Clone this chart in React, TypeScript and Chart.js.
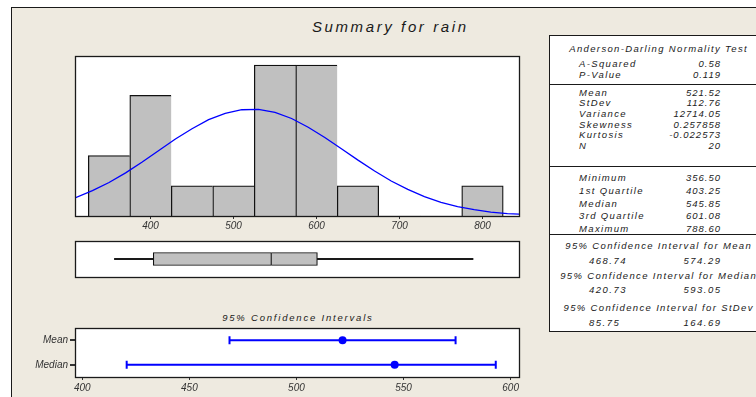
import React, { useEffect, useRef } from "react";
import { Chart, registerables } from "chart.js";

Chart.register(...registerables);

// ---------- data ----------
const binCenters = [350, 400, 450, 500, 550, 600, 650, 700, 750, 800];
const binCounts = [2, 4, 1, 1, 5, 5, 1, 0, 0, 1];
// fitted normal curve (scaled to counts)
const curveX = [309, 330, 350, 370, 390, 410, 430, 450, 470, 490, 510, 530, 550, 570, 590, 610, 630, 650, 670, 690, 710, 730, 750, 770, 790, 810, 830, 844];
const curveY = [0.6, 0.84, 1.11, 1.43, 1.79, 2.17, 2.55, 2.89, 3.19, 3.4, 3.52, 3.53, 3.43, 3.23, 2.94, 2.6, 2.23, 1.85, 1.49, 1.16, 0.88, 0.64, 0.45, 0.31, 0.21, 0.13, 0.08, 0.06];
const histTicks = [400, 500, 600, 700, 800];
const boxFive = [356.5, 403.25, 545.85, 601.08, 788.6];
const ciNames = ["Mean", "Median"];
const ciY = [1, 0];
const ciLow = [468.74, 420.73];
const ciHigh = [574.29, 593.05];
const ciPoint = [521.52, 545.85];
const ciTicks = [400, 450, 500, 550, 600];

const adLabels = ["A-Squared", "P-Value"];
const adValues = ["0.58", "0.119"];
const momentLabels = ["Mean", "StDev", "Variance", "Skewness", "Kurtosis", "N"];
const momentValues = ["521.52", "112.76", "12714.05", "0.257858", "-0.022573", "20"];
const quantLabels = ["Minimum", "1st Quartile", "Median", "3rd Quartile", "Maximum"];
const quantValues = ["356.50", "403.25", "545.85", "601.08", "788.60"];
const ciTitles = ["95% Confidence Interval for Mean", "95% Confidence Interval for Median", "95% Confidence Interval for StDev"];
const ciTableLow = ["468.74", "420.73", "85.75"];
const ciTableHigh = ["574.29", "593.05", "164.69"];

// ---------- style ----------
const FONT = '"Liberation Sans", Arial, Helvetica, sans-serif';
const BEIGE = "#EEEAE0";
const BLUE = "#0000FF";
const DARK = "#1a1a1a";

const framePlugin = {
  id: "frame",
  beforeDraw(chart: any) {
    const { ctx, chartArea: a } = chart;
    ctx.save();
    ctx.fillStyle = "#fff";
    ctx.fillRect(a.left, a.top, a.right - a.left, a.bottom - a.top);
    ctx.restore();
  },
  afterDraw(chart: any) {
    const { ctx, chartArea: a } = chart;
    ctx.save();
    ctx.strokeStyle = DARK;
    ctx.lineWidth = 1.3;
    ctx.strokeRect(Math.round(a.left) + 0.5, Math.round(a.top) + 0.5, Math.round(a.right - a.left), Math.round(a.bottom - a.top));
    ctx.restore();
  },
};

function T({ x, y, a = "left", s = 9.5, ls = 1, c = DARK, children }: any) {
  const tx = a === "left" ? "0px" : a === "right" ? `calc(-100% + ${ls}px)` : `calc(-50% + ${ls / 2}px)`;
  return (
    <div
      style={{
        position: "absolute",
        left: x,
        top: y,
        transform: `translate(${tx}, -50%)`,
        fontSize: s,
        fontStyle: "italic",
        letterSpacing: ls,
        color: c,
        whiteSpace: "nowrap",
        lineHeight: 1,
        fontFamily: FONT,
      }}
    >
      {children}
    </div>
  );
}

export default function App() {
  const histRef = useRef<HTMLCanvasElement>(null);
  const boxRef = useRef<HTMLCanvasElement>(null);
  const ciRef = useRef<HTMLCanvasElement>(null);

  useEffect(() => {
    Chart.defaults.font.family = FONT;
    const tickFont = { size: 10, style: "italic" as const };
    const tickColor = "#333";
    const charts: Chart[] = [];

    charts.push(
      new Chart(histRef.current!, {
        type: "bar",
        data: {
          datasets: [
            {
              type: "line",
              data: curveX.map((x, i) => ({ x, y: curveY[i] })),
              borderColor: BLUE,
              borderWidth: 1.3,
              pointRadius: 0,
              tension: 0,
              order: 0,
            } as any,
            {
              type: "bar",
              data: binCenters.map((x, i) => ({ x, y: binCounts[i] })),
              backgroundColor: "#C0C0C0",
              borderColor: "#111",
              borderWidth: (ctx: any) => {
                const i = ctx.dataIndex;
                if (!binCounts[i]) return 0;
                const last = i === binCounts.length - 1 || !binCounts[i + 1];
                return { top: 1.3, left: 1.3, bottom: 0, right: last ? 1.3 : 0 };
              },
              borderSkipped: false,
              barPercentage: 1,
              categoryPercentage: 1,
              order: 1,
            } as any,
          ],
        },
        options: {
          responsive: false,
          animation: false,
          layout: { padding: { left: 15, top: 10, right: 21, bottom: 0 } },
          plugins: { legend: { display: false }, tooltip: { enabled: false } },
          scales: {
            x: {
              type: "linear",
              min: 309,
              max: 844,
              offset: false,
              afterBuildTicks: (s: any) => {
                s.ticks = histTicks.map((v) => ({ value: v }));
              },
              afterFit: (s: any) => {
                s.height = 20;
              },
              grid: { offset: false, drawOnChartArea: false, tickLength: 3, color: "#333" },
              border: { display: false },
              ticks: { font: tickFont, color: tickColor, padding: 1, maxRotation: 0 },
            },
            y: { display: false, min: 0, max: 5.3 },
          },
        } as any,
        plugins: [framePlugin],
      })
    );

    const boxBase = { backgroundColor: "#C0C0C0", borderColor: "#111", borderSkipped: false, barThickness: 13, grouped: false };
    const whisk = { backgroundColor: DARK, borderWidth: 0, barThickness: 1.2, grouped: false };
    charts.push(
      new Chart(boxRef.current!, {
        type: "bar",
        data: {
          labels: ["rain"],
          datasets: [
            { ...boxBase, data: [[boxFive[1], boxFive[2]]], borderWidth: { top: 1.2, left: 1.2, bottom: 1.2, right: 1.2 } } as any,
            { ...boxBase, data: [[boxFive[2], boxFive[3]]], borderWidth: { top: 1.2, left: 0, bottom: 1.2, right: 1.2 } } as any,
            { ...whisk, data: [[boxFive[0], boxFive[1]]] } as any,
            { ...whisk, data: [[boxFive[3], boxFive[4]]] } as any,
          ],
        },
        options: {
          indexAxis: "y",
          responsive: false,
          animation: false,
          layout: { padding: { left: 15, top: 5, right: 21, bottom: 5 } },
          plugins: { legend: { display: false }, tooltip: { enabled: false } },
          scales: {
            x: { type: "linear", min: 309, max: 844, display: false },
            y: { display: false },
          },
        } as any,
        plugins: [framePlugin],
      })
    );

    charts.push(
      new Chart(ciRef.current!, {
        type: "scatter",
        data: {
          datasets: [
            ...ciNames.map((_, i) => ({
              data: [
                { x: ciLow[i], y: ciY[i] },
                { x: ciHigh[i], y: ciY[i] },
              ],
              showLine: true,
              borderColor: BLUE,
              borderWidth: 2,
              pointStyle: "line",
              pointRotation: 90,
              pointRadius: 4,
              pointBorderColor: BLUE,
              pointBorderWidth: 2,
            })),
            {
              data: ciPoint.map((x, i) => ({ x, y: ciY[i] })),
              showLine: false,
              pointStyle: "circle",
              pointRadius: 4,
              pointBackgroundColor: BLUE,
              pointBorderColor: BLUE,
              pointBorderWidth: 0,
            },
          ] as any,
        },
        options: {
          responsive: false,
          animation: false,
          layout: { padding: { left: 0, top: 6, right: 21, bottom: 0 } },
          plugins: { legend: { display: false }, tooltip: { enabled: false } },
          scales: {
            x: {
              type: "linear",
              min: 396.6,
              max: 603.9,
              afterBuildTicks: (s: any) => {
                s.ticks = ciTicks.map((v) => ({ value: v }));
              },
              afterFit: (s: any) => {
                s.height = 20;
              },
              grid: { drawOnChartArea: false, tickLength: 3, color: "#333" },
              border: { display: false },
              ticks: { font: tickFont, color: tickColor, padding: 2, maxRotation: 0 },
            },
            y: {
              type: "linear",
              min: -0.5,
              max: 1.5,
              afterBuildTicks: (s: any) => {
                s.ticks = ciY.map((v) => ({ value: v }));
              },
              afterFit: (s: any) => {
                s.width = 75;
              },
              grid: { drawOnChartArea: false, tickLength: 5, color: "#333", lineWidth: 2 },
              border: { display: false },
              ticks: {
                font: tickFont,
                color: tickColor,
                padding: 2,
                callback: (v: any) => {
                  const k = ciY.indexOf(Number(v));
                  return k >= 0 ? ciNames[k] : "";
                },
              },
            },
          },
        } as any,
        plugins: [framePlugin],
      })
    );

    return () => charts.forEach((c) => c.destroy());
  }, []);

  const momentYs = [92.7, 103.3, 113.8, 124.8, 135.3, 146];
  const quantYs = [178, 190.7, 203.5, 215.8, 228.5];
  const adYs = [64, 75.3];
  const ciTitleYs = [245.7, 275.7, 307.7];
  const ciValYs = [261, 290, 322.7];
  const LX = 579;
  const VX = 720;
  const CX = 658;
  const LS = 1.35;
  const NS = 1.0;

  return (
    <div style={{ position: "absolute", left: 0, top: 0, width: 756, height: 397, overflow: "hidden", background: "#fff", fontFamily: FONT }}>
      <div style={{ position: "absolute", left: 11, top: 7, width: 800, height: 450, border: `1px solid ${DARK}`, background: BEIGE }} />
      <T x={389} y={25.7} a="center" s={15} ls={2.6}>Summary for rain</T>

      <canvas ref={histRef} width={480} height={190} style={{ position: "absolute", left: 60, top: 46 }} />
      <canvas ref={boxRef} width={480} height={46} style={{ position: "absolute", left: 60, top: 236 }} />
      <T x={297} y={317.7} a="center" s={9.5} ls={1.8}>95% Confidence Intervals</T>
      <canvas ref={ciRef} width={540} height={77} style={{ position: "absolute", left: 0, top: 320 }} />

      <div style={{ position: "absolute", left: 549, top: 35, width: 230, height: 295, border: `1px solid ${DARK}`, background: "#fff" }} />
      {[84, 166, 234].map((y) => (
        <div key={y} style={{ position: "absolute", left: 549, top: y, width: 230, height: 1.3, background: DARK }} />
      ))}
      <T x={CX} y={48.5} a="center" ls={LS}>Anderson-Darling Normality Test</T>
      {adLabels.map((l, i) => (
        <React.Fragment key={l}>
          <T x={LX} y={adYs[i]} ls={LS}>{l}</T>
          <T x={VX} y={adYs[i]} a="right" ls={NS}>{adValues[i]}</T>
        </React.Fragment>
      ))}
      {momentLabels.map((l, i) => (
        <React.Fragment key={l}>
          <T x={LX} y={momentYs[i]} ls={LS}>{l}</T>
          <T x={VX} y={momentYs[i]} a="right" ls={NS}>{momentValues[i]}</T>
        </React.Fragment>
      ))}
      {quantLabels.map((l, i) => (
        <React.Fragment key={l}>
          <T x={LX} y={quantYs[i]} ls={LS}>{l}</T>
          <T x={VX} y={quantYs[i]} a="right" ls={NS}>{quantValues[i]}</T>
        </React.Fragment>
      ))}
      {ciTitles.map((t, i) => (
        <React.Fragment key={t}>
          <T x={CX} y={ciTitleYs[i]} a="center" ls={LS}>{t}</T>
          <T x={589} y={ciValYs[i]} ls={1.5}>{ciTableLow[i]}</T>
          <T x={VX} y={ciValYs[i]} a="right" ls={1.5}>{ciTableHigh[i]}</T>
        </React.Fragment>
      ))}
    </div>
  );
}
